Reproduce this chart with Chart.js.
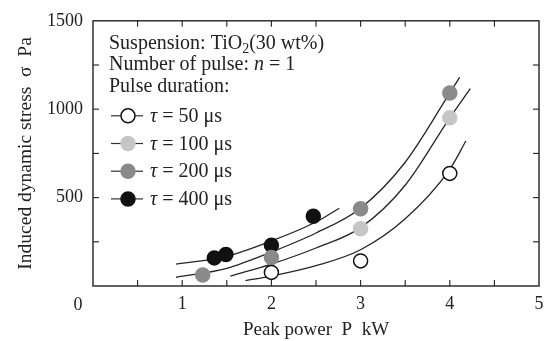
<!DOCTYPE html>
<html>
<head>
<meta charset="utf-8">
<script src="https://cdn.jsdelivr.net/npm/chart.js@4.4.0/dist/chart.umd.min.js"></script>
<style>
  html, body { margin: 0; padding: 0; background: #fff; }
  #contenedor { width: 551px; height: 341px; }
</style>
</head>
<body>
<div id="contenedor"><canvas id="plot"></canvas></div>
<script>
// Duraciones de pulso (leyenda)
const etiquetasTau = ['50', '100', '200', '400'];
const coloresTau = ['#ffffff', '#c6c6c6', '#8a8a8a', '#111111'];

// Puntos medidos (P en kW, sigma en Pa)
const p50X = [2, 3, 4];
const p50Y = [77, 142, 637];
const p100X = [3, 4];
const p100Y = [324, 951];
const p200X = [1.23, 2, 3, 4];
const p200Y = [62, 161, 437, 1092];
const p400X = [1.36, 1.49, 2, 2.47];
const p400Y = [159, 178, 230, 395];

// Curvas de ajuste
const curva50X = [1.71, 2, 2.5, 3, 3.5, 4, 4.18];
const curva50Y = [30, 56, 115, 205, 380, 660, 820];
const curva100X = [1.54, 2, 2.5, 3, 3.5, 4, 4.23];
const curva100Y = [56, 124, 215, 330, 570, 951, 1116];
const curva200X = [0.93, 1.5, 2, 2.5, 3, 3.5, 4, 4.11];
const curva200Y = [49, 100, 192, 300, 440, 700, 1092, 1180];
const curva400X = [0.93, 1.5, 2, 2.5, 2.76];
const curva400Y = [124, 168, 255, 362, 440];

// Etiquetas de los ejes
const etiquetasX = ['1', '2', '3', '4', '5'];
const etiquetasY = ['500', '1000', '1500'];

let fuente = 'Liberation Serif';

let aPuntos = (xs, ys) => xs.map((x, i) => ({ x: x, y: ys[i] }));

let curva = (xs, ys) => ({
  data: aPuntos(xs, ys),
  showLine: true,
  borderColor: '#262626',
  borderWidth: 1.3,
  pointRadius: 0,
  cubicInterpolationMode: 'monotone',
  fill: false,
  order: 2
});

let puntos = (xs, ys, color) => ({
  data: aPuntos(xs, ys),
  showLine: false,
  pointRadius: 7,
  pointHoverRadius: 7,
  backgroundColor: color,
  borderColor: color === '#ffffff' ? '#111111' : color,
  borderWidth: 1.5,
  order: 1
});

// Dibuja un texto con partes normales, cursivas y subíndices
let textoMixto = (ctx, partes, x, y, tam) => {
  let cx = x;
  partes.forEach(([txt, estilo]) => {
    let dy = 0;
    if (estilo === 'i') ctx.font = `italic ${tam}px "${fuente}"`;
    else if (estilo === 'sub') { ctx.font = `${Math.round(tam * 0.7)}px "${fuente}"`; dy = 4; }
    else ctx.font = `${tam}px "${fuente}"`;
    ctx.fillText(txt, cx, y + dy);
    cx += ctx.measureText(txt).width;
  });
};

let marcoPlugin = {
  id: 'marco',
  afterDraw: (chart) => {
    let ctx = chart.ctx;
    let area = chart.chartArea;
    let xs = chart.scales.x;
    let ys = chart.scales.y;
    let linea = (x1, y1, x2, y2) => { ctx.beginPath(); ctx.moveTo(x1, y1); ctx.lineTo(x2, y2); ctx.stroke(); };

    ctx.save();
    ctx.strokeStyle = '#222';
    ctx.lineWidth = 1.4;
    ctx.strokeRect(area.left, area.top, area.right - area.left, area.bottom - area.top);

    //Marcas hacia adentro en los cuatro lados
    ctx.lineWidth = 1.1;
    for (let v = 0.5; v < 5; v += 0.5) {
      let px = xs.getPixelForValue(v);
      linea(px, area.bottom, px, area.bottom - 6);
      linea(px, area.top, px, area.top + 6);
    }
    for (let v = 250; v < 1500; v += 250) {
      let py = ys.getPixelForValue(v);
      linea(area.left, py, area.left + 6, py);
      linea(area.right, py, area.right - 6, py);
    }

    //Cero compartido en la esquina
    ctx.fillStyle = '#222';
    ctx.font = `18px "${fuente}"`;
    ctx.textAlign = 'center';
    ctx.textBaseline = 'alphabetic';
    ctx.fillText('0', area.left - 15, area.bottom + 24);

    //Leyenda con texto
    ctx.textAlign = 'left';
    let x0 = area.left + 16;
    textoMixto(ctx, [['Suspension: TiO', 'n'], ['2', 'sub'], ['(30 wt%)', 'n']], x0, area.top + 28, 20);
    textoMixto(ctx, [['Number of pulse: ', 'n'], ['n', 'i'], [' = 1', 'n']], x0, area.top + 49.5, 20);
    textoMixto(ctx, [['Pulse duration:', 'n']], x0, area.top + 71, 20);

    etiquetasTau.forEach((tau, i) => {
      let cy = area.top + 95 + i * 27.7;
      let color = coloresTau[i];
      ctx.strokeStyle = '#333';
      ctx.lineWidth = 1.2;
      linea(area.left + 18, cy, area.left + 50, cy);
      ctx.beginPath();
      ctx.arc(area.left + 35, cy, 7, 0, Math.PI * 2);
      ctx.fillStyle = color;
      ctx.fill();
      ctx.strokeStyle = color === '#ffffff' ? '#111' : color;
      ctx.lineWidth = 1.5;
      ctx.stroke();
      ctx.fillStyle = '#222';
      textoMixto(ctx, [['τ', 'i'], [` = ${tau} μs`, 'n']], area.left + 57, cy + 6, 20);
    });
    ctx.restore();
  }
};

let plotRef = document.getElementById('plot');

let config = {
  type: 'scatter',
  data: {
    datasets: [
      curva(curva50X, curva50Y),
      curva(curva100X, curva100Y),
      curva(curva200X, curva200Y),
      curva(curva400X, curva400Y),
      puntos(p50X, p50Y, coloresTau[0]),
      puntos(p100X, p100Y, coloresTau[1]),
      puntos(p200X, p200Y, coloresTau[2]),
      puntos(p400X, p400Y, coloresTau[3])
    ]
  },
  options: {
    responsive: true,
    maintainAspectRatio: false,
    animation: false,
    layout: { padding: { top: 20, right: 12, left: 0, bottom: 0 } },
    plugins: {
      legend: { display: false },
      tooltip: { enabled: false }
    },
    scales: {
      x: {
        type: 'linear',
        min: 0,
        max: 5,
        grid: { display: false, drawTicks: false },
        border: { display: false },
        ticks: {
          stepSize: 1,
          padding: 7,
          color: '#222',
          font: { family: fuente, size: 18 },
          callback: (v) => etiquetasX.includes(String(v)) ? String(v) : ''
        },
        title: {
          display: true,
          text: 'Peak power  P  kW',
          color: '#222',
          font: { family: fuente, size: 19 },
          padding: { top: 0, bottom: 0 }
        },
        afterFit: (scale) => { scale.height = 55; }
      },
      y: {
        type: 'linear',
        min: 0,
        max: 1500,
        grid: { display: false, drawTicks: false },
        border: { display: false },
        ticks: {
          stepSize: 500,
          padding: 10,
          color: '#222',
          font: { family: fuente, size: 18 },
          callback: (v) => etiquetasY.includes(String(v)) ? String(v) : ''
        },
        title: {
          display: true,
          text: 'Induced dynamic stress  σ  Pa',
          color: '#222',
          font: { family: fuente, size: 19.5 },
          padding: { top: 14, bottom: 0 }
        },
        afterFit: (scale) => { scale.width = 93; }
      }
    }
  },
  plugins: [marcoPlugin]
};

let chart1 = new Chart(plotRef, config);
</script>
</body>
</html>
